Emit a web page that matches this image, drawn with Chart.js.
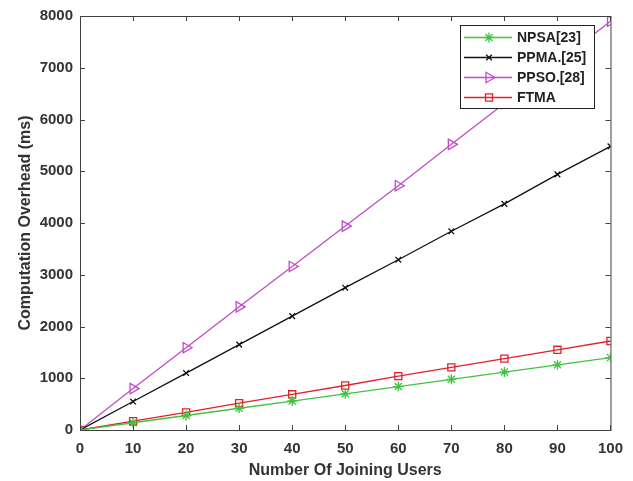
<!DOCTYPE html>
<html>
<head>
<meta charset="utf-8">
<script src="https://cdn.jsdelivr.net/npm/chart.js"></script>
<style>
  html, body { margin: 0; padding: 0; background: #fff; }
  #wrap { width: 633px; height: 481px; }
</style>
</head>
<body>
<div id="wrap"><canvas id="c"></canvas></div>
<script>
// data
const users = [0, 10, 20, 30, 40, 50, 60, 70, 80, 90, 100];
const npsa = [0, 140, 280, 420, 560, 700, 840, 980, 1120, 1260, 1400];
const ppma = [0, 550, 1100, 1650, 2200, 2750, 3290, 3840, 4370, 4940, 5480];
const ppso = [0, 800, 1590, 2380, 3160, 3940, 4720, 5520, 6310, 7100, 7900];
const ftma = [0, 170, 340, 520, 690, 860, 1040, 1210, 1380, 1550, 1720];
const xTicks = [0, 10, 20, 30, 40, 50, 60, 70, 80, 90, 100];
const yTicks = [0, 1000, 2000, 3000, 4000, 5000, 6000, 7000, 8000];

const FONT = '"Liberation Sans", Arial, sans-serif';
const AXIS = '#404040';

const pts = ys => users.map((x, i) => ({ x, y: ys[i] }));

const series = [
  { label: 'NPSA[23]', data: pts(npsa), color: '#42c242', style: 'star', radius: 5, rot: 0 },
  { label: 'PPMA.[25]', data: pts(ppma), color: '#111111', style: 'crossRot', radius: 4, rot: 0 },
  { label: 'PPSO.[28]', data: pts(ppso), color: '#c24cc8', style: 'triangle', radius: 6, rot: 90 },
  { label: 'FTMA', data: pts(ftma), color: '#e3202a', style: 'rect', radius: 5, rot: 0 }
];

// MATLAB style box with inward ticks
const boxPlugin = {
  id: 'box',
  afterDraw(chart) {
    const { ctx, chartArea: a, scales } = chart;
    ctx.save();
    ctx.strokeStyle = AXIS;
    ctx.lineWidth = 1;
    ctx.strokeRect(a.left + 0.5, a.top + 0.5, a.right - a.left, a.bottom - a.top);
    ctx.beginPath();
    xTicks.forEach(v => {
      const px = Math.round(scales.x.getPixelForValue(v)) + 0.5;
      ctx.moveTo(px, a.bottom); ctx.lineTo(px, a.bottom - 5);
      ctx.moveTo(px, a.top); ctx.lineTo(px, a.top + 5);
    });
    yTicks.forEach(v => {
      const py = Math.round(scales.y.getPixelForValue(v)) + 0.5;
      ctx.moveTo(a.left, py); ctx.lineTo(a.left + 5, py);
      ctx.moveTo(a.right, py); ctx.lineTo(a.right - 5, py);
    });
    ctx.stroke();
    ctx.restore();
  }
};

// legend box in the upper right corner
const legendPlugin = {
  id: 'legendBox',
  afterDraw(chart) {
    const { ctx } = chart;
    const x0 = 460, y0 = 25, w = 134, h = 83, rowH = 20;
    ctx.save();
    ctx.fillStyle = '#fff';
    ctx.fillRect(x0, y0, w, h);
    ctx.strokeStyle = '#222';
    ctx.lineWidth = 1;
    ctx.strokeRect(x0 + 0.5, y0 + 0.5, w, h);
    ctx.font = 'bold 14px ' + FONT;
    ctx.textBaseline = 'middle';
    series.forEach((s, i) => {
      const cy = y0 + 12.5 + i * rowH;
      ctx.strokeStyle = s.color;
      ctx.lineWidth = 1.3;
      ctx.beginPath();
      ctx.moveTo(x0 + 4, cy); ctx.lineTo(x0 + 52, cy);
      ctx.stroke();
      ctx.fillStyle = 'rgba(0,0,0,0)';
      Chart.helpers.drawPoint(ctx, {
        pointStyle: s.style, radius: s.radius, rotation: s.rot, borderWidth: 1.3
      }, x0 + 29, cy);
      ctx.fillStyle = '#222';
      ctx.fillText(s.label, x0 + 57, cy + 1);
    });
    ctx.restore();
  }
};

const tickFont = { family: FONT, size: 15, weight: 'bold' };
const titleFont = { family: FONT, size: 16, weight: 'bold' };

new Chart(document.getElementById('c'), {
  type: 'line',
  data: {
    datasets: series.map(s => ({
      label: s.label,
      data: s.data,
      borderColor: s.color,
      backgroundColor: 'rgba(0,0,0,0)',
      pointBorderColor: s.color,
      pointBackgroundColor: 'rgba(0,0,0,0)',
      pointStyle: s.style,
      pointRadius: s.radius,
      pointRotation: s.rot,
      pointBorderWidth: 1.3,
      borderWidth: 1.3,
      tension: 0
    }))
  },
  options: {
    responsive: true,
    maintainAspectRatio: false,
    animation: false,
    layout: { padding: { top: 11, right: 21, left: 0, bottom: 0 } },
    plugins: { legend: { display: false }, tooltip: { enabled: false } },
    scales: {
      x: {
        type: 'linear', min: 0, max: 100,
        afterBuildTicks: s => { s.ticks = xTicks.map(v => ({ value: v })); },
        afterFit: s => { s.height = 51; },
        grid: { display: false, drawTicks: false },
        border: { display: false },
        ticks: { color: '#333', font: tickFont, padding: 10, maxRotation: 0, callback: v => String(v) },
        title: { display: true, text: 'Number Of Joining Users', color: '#333', font: titleFont, padding: { top: 0, bottom: 1 } }
      },
      y: {
        min: 0, max: 8000,
        afterBuildTicks: s => { s.ticks = yTicks.map(v => ({ value: v })); },
        afterFit: s => { s.width = 80; },
        grid: { display: false, drawTicks: false },
        border: { display: false },
        ticks: { color: '#333', font: tickFont, padding: 7, callback: v => String(v) },
        title: { display: true, text: 'Computation Overhead (ms)', color: '#333', font: titleFont, padding: { top: 16, bottom: 0 } }
      }
    }
  },
  plugins: [boxPlugin, legendPlugin]
});
</script>
</body>
</html>
